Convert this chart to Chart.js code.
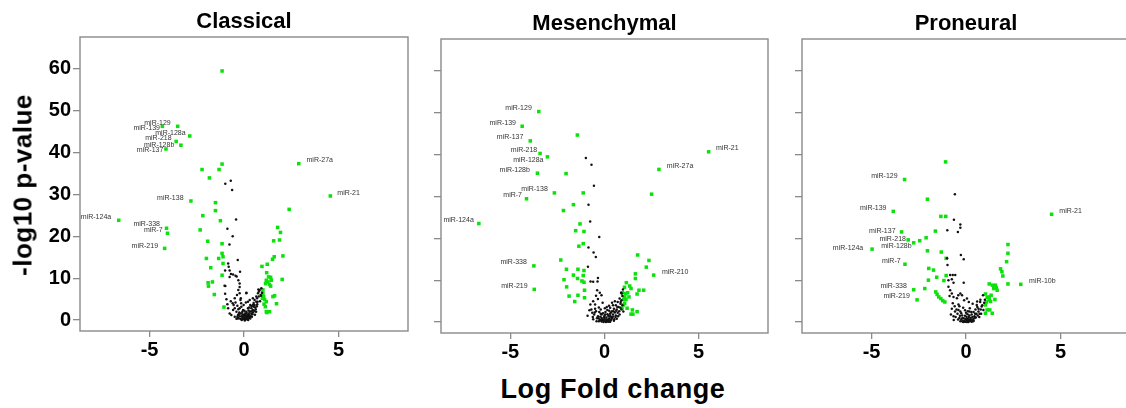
<!DOCTYPE html>
<html>
<head>
<meta charset="utf-8">
<script src="https://cdn.jsdelivr.net/npm/chart.js@4.4.1/dist/chart.umd.min.js"></script>
<style>
  html, body { margin: 0; padding: 0; background: #fff; overflow: hidden; width: 1126px; height: 408px; }
  canvas { position: absolute; top: 0; }
  .axis-title { position: absolute; font: bold 26px "Liberation Sans", Arial, sans-serif; white-space: nowrap; color: #000; }
  #ytitle { left: 23px; top: 185px; transform: translate(-50%, -50%) rotate(-90deg); letter-spacing: 0.5px; }
  #xtitle { left: 613px; top: 389px; transform: translate(-50%, -50%); font-size: 27px; letter-spacing: 0.6px; }
</style>
</head>
<body>
<canvas id="classical" width="420" height="372" style="left:0px"></canvas>
<canvas id="mesenchymal" width="360" height="372" style="left:420px"></canvas>
<canvas id="proneural" width="352" height="372" style="left:790px"></canvas>
<div class="axis-title" id="ytitle">-log10 p-value</div>
<div class="axis-title" id="xtitle">Log Fold change</div>
<script>
// Tick labels
// ----------------------------------------------
const xTicks = [-5, 0, 5];
const yTicks = [0, 10, 20, 30, 40, 50, 60];

// Classical
// ----------------------------------------------
const classicalGreen = [
   [-1.16,59.4],[-2.22,35.9],[-1.83,33.9],[-1.32,35.9],[-1.16,37.2],[-1.51,28.0],[-1.51,26.1],[-2.18,24.9],
   [-1.25,23.7],[-2.32,21.5],[-1.92,18.8],[-1.16,18.2],[-1.99,14.7],[-1.34,14.7],[-1.16,15.9],[-1.11,15.1],
   [-1.76,12.5],[-1.11,13.5],[-1.16,10.7],[-1.90,8.9],[-1.88,8.1],[-1.67,9.1],[-1.57,6.1],[-1.06,3.1],
   [2.39,26.4],[1.78,22.1],[1.93,20.9],[1.57,18.9],[1.88,19.1],[2.06,15.3],[1.60,15.1],[1.51,14.5],
   [0.95,12.8],[1.23,13.3],[1.20,11.3],[2.02,9.7],[1.30,10.3],[1.41,10.2],[1.18,9.5],[1.27,9.1],
   [1.35,8.5],[1.44,9.5],[1.14,8.7],[1.41,8.1],[1.00,7.2],[1.00,6.4],[1.04,5.6],[1.09,4.9],
   [1.18,4.4],[1.06,3.8],[1.13,3.2],[0.97,5.2],[1.53,5.6],[1.62,5.8],[1.72,3.9],[1.18,2.0],
   [1.35,2.0],[1.21,1.8]
];
const classicalBlack = [
   [-0.99,32.5],[-0.70,33.2],[-0.63,31.0],[-0.42,24.0],[-0.88,21.8],[-0.60,20.0],[-0.77,18.0],[-0.33,14.3],
   [-0.84,13.5],[-0.81,12.7],[-0.76,11.8],[-1.00,11.8],[-0.69,11.0],[-0.58,10.9],[-0.45,10.6],[-0.39,10.4],
   [-0.21,11.5],[-0.30,9.5],[-0.23,8.7],[-0.76,10.3],[-1.03,8.2],[-0.99,8.1],[-1.00,6.3],[-0.93,5.0],
   [-0.88,3.8],[-0.84,2.8],[-0.76,1.6],[-0.60,4.0],[-0.49,5.2],[-0.37,6.0],[-0.30,7.2],[-0.23,7.9],
   [-0.23,6.4],[-0.17,5.2],[0.13,6.5],[-0.19,4.8],[-0.14,3.2],[-0.09,2.0],[-0.05,1.2],[-0.02,0.4],
   [0.04,0.2],[0.12,0.6],[0.21,1.2],[0.30,2.0],[0.39,2.8],[0.47,3.6],[0.56,4.8],[0.65,5.6],
   [0.74,6.4],[0.83,7.2],[0.76,7.3],[0.12,6.4],[0.21,4.4],[0.30,4.8],[0.47,5.2],[0.65,4.4],
   [0.56,3.6],[0.47,2.4],[0.39,1.6],[0.26,0.8],[0.09,1.2],[-0.05,2.4],[-0.19,1.6],[-0.32,1.2],
   [-0.40,2.0],[-0.49,2.8],[-0.58,2.4],[-0.67,1.2],[-0.49,0.8],[-0.32,0.4],[-0.14,0.2],[0.04,-0.1],
   [0.16,0.2],[-0.09,0.8],[-0.23,2.8],[0.04,1.6],[0.21,2.8],[0.33,3.6],[0.12,2.0],[0.51,4.1],
   [0.69,5.2],[0.79,6.8],[-0.30,0.5],[-0.20,0.3],[0.00,0.6],[0.10,0.3],[0.20,0.4],[0.30,0.6],
   [0.15,1.0],[-0.10,1.0],[0.05,1.3],[0.25,1.6],[-0.25,1.8],[0.35,1.0],[0.45,1.4],[0.55,2.2],
   [0.60,3.0],[0.70,3.8],[0.85,4.5],[0.90,5.8],[0.95,6.5],[0.62,2.6],[-0.35,3.4],[-0.55,3.6],
   [-0.70,4.5],[-0.45,4.2],[-0.15,4.0],[-0.40,0.3],[-0.35,0.8],[-0.28,1.4],[-0.22,0.9],[-0.12,1.6],
   [-0.08,0.5],[0.00,1.1],[0.02,2.2],[0.08,0.9],[0.14,1.7],[0.18,0.7],[0.24,2.3],[0.28,1.2],
   [0.33,0.4],[0.38,2.1],[0.42,0.8],[0.48,1.9],[0.52,3.2],[0.58,1.3],[0.64,2.0],[0.68,3.3],
   [0.72,4.4],[0.78,5.6],[0.88,6.0],[0.92,7.6],[0.40,3.3],[0.27,3.0],[-0.02,3.6],[0.10,4.2],
   [-0.30,2.6],[-0.12,0.05],[0.22,0.0],[0.07,0.15],[-0.05,0.25]
];
// name, point x, point y, text x, text y
const classicalNamed = [
   ['miR-129',-3.51,46.2,-3.88,46.9],
   ['miR-139',-4.32,46.2,-4.45,45.8],
   ['miR-128a',-2.87,43.9,-3.09,44.6],
   ['miR-218',-3.59,42.6,-3.83,43.4],
   ['miR-128b',-3.34,41.7,-3.69,41.7],
   ['miR-137',-4.13,40.8,-4.27,40.6],
   ['miR-27a',2.90,37.3,3.31,38.1],
   ['miR-21',4.57,29.6,4.94,30.4],
   ['miR-138',-2.81,28.4,-3.20,29.1],
   ['miR-124a',-6.63,23.8,-7.03,24.5],
   ['miR-338',-4.10,21.9,-4.45,22.9],
   ['miR-7',-4.05,20.7,-4.31,21.5],
   ['miR-219',-4.20,17.1,-4.55,17.7]
];

// Mesenchymal
// ----------------------------------------------
const mesenchymalGreen = [
   [-1.44,44.6],[-2.04,35.4],[-1.13,30.8],[2.50,30.5],[-1.65,28.0],[-2.18,26.6],[-1.30,23.4],[-1.53,21.8],
   [-1.09,21.6],[-1.13,18.7],[-1.36,18.1],[1.76,16.0],[2.36,14.7],[-2.32,14.8],[2.22,13.1],[-2.02,12.6],
   [-1.41,12.6],[-1.09,12.3],[-1.65,11.2],[-1.13,11.1],[-1.43,10.4],[-1.20,9.8],[-1.09,9.5],[-2.15,10.1],
   [1.64,11.5],[1.64,10.4],[1.16,9.4],[1.34,8.6],[1.41,8.0],[1.06,8.3],[0.95,7.0],[1.23,7.0],
   [1.30,6.0],[1.02,5.4],[1.07,4.5],[1.20,3.3],[0.93,3.3],[1.48,2.9],[1.41,1.9],[1.51,1.9],
   [1.73,2.5],[1.83,7.6],[2.08,7.6],[1.73,6.7],[-2.01,8.4],[-1.41,6.4],[-1.06,7.6],[-1.06,5.8],
   [-1.88,6.2],[-1.58,4.9],[1.07,6.0],[1.13,6.8],[1.14,5.4],[1.00,4.1]
];
const mesenchymalBlack = [
   [-0.99,39.1],[-0.69,37.5],[-0.56,32.5],[-0.85,28.0],[-0.76,24.0],[-0.28,20.3],[-0.85,17.8],[-0.58,16.6],
   [-0.46,15.5],[-0.88,13.2],[-0.35,10.5],[-0.37,9.7],[-0.74,9.7],[-0.60,9.6],[-0.39,7.6],[-0.16,6.4],
   [-0.60,5.0],[-0.50,4.2],[-0.70,3.0],[-0.45,2.6],[-0.30,3.5],[-0.20,2.0],[-0.35,1.4],[-0.15,1.0],
   [-0.05,0.4],[0.05,0.2],[0.15,0.5],[0.25,0.9],[0.35,1.3],[0.45,1.8],[0.55,2.3],[0.65,3.0],
   [0.75,3.6],[0.85,4.4],[0.90,5.2],[0.95,6.2],[0.88,7.0],[0.98,7.8],[0.60,4.0],[0.50,3.2],
   [0.40,2.6],[0.30,2.0],[0.20,1.5],[0.10,1.1],[0.00,0.8],[-0.10,0.3],[-0.25,0.6],[-0.40,0.9],
   [-0.55,1.8],[-0.65,2.2],[-0.80,2.8],[-0.75,4.2],[-0.20,3.0],[0.05,2.4],[0.15,2.9],[0.30,3.4],
   [0.45,4.0],[0.70,4.8],[0.80,5.6],[0.35,0.5],[0.20,0.1],[-0.05,0.0],[0.10,0.6],[0.40,1.0],
   [0.60,1.6],[0.70,2.2],[-0.30,0.2],[-0.15,1.8],[0.25,2.7],[0.55,5.0],[-0.50,3.2],[-0.90,1.5],
   [0.80,1.8],[0.90,3.0],[-0.35,5.5],[-0.10,4.6],[0.12,3.6],[0.00,1.5],[0.65,0.8],[0.50,0.3],
   [-0.60,0.7],[-0.45,6.3],[-0.25,7.0],[0.95,4.0],[1.00,2.5],[-0.15,0.15],[0.30,0.1],[0.08,0.05],
   [0.18,0.25],[-0.20,0.4],[-0.42,0.2],[-0.32,0.9],[-0.22,1.3],[-0.12,0.6],[-0.02,1.2],[0.04,1.8],
   [0.12,0.3],[0.16,1.9],[0.22,0.7],[0.28,1.5],[0.34,2.3],[0.38,0.8],[0.44,1.3],[0.48,2.6],
   [0.52,0.7],[0.58,1.2],[0.62,2.7],[0.68,3.6],[0.72,1.4],[0.78,2.6],[0.84,3.4],[0.86,4.8],
   [0.92,6.8],[-0.52,2.3],[-0.62,1.2],[-0.28,2.4],[-0.08,2.1],[0.02,3.3],[0.24,3.9],[0.40,4.6],
   [0.26,0.2],[-0.02,0.6],[0.10,0.1]
];
const mesenchymalNamed = [
   ['miR-129',-3.49,50.2,-3.86,51.0],
   ['miR-139',-4.37,46.7,-4.70,47.5],
   ['miR-137',-3.94,43.2,-4.31,44.1],
   ['miR-218',-3.42,40.2,-3.57,41.0],
   ['miR-128a',-3.03,39.4,-3.24,38.7],
   ['miR-128b',-3.56,35.5,-3.96,36.2],
   ['miR-138',-2.66,30.8,-3.01,31.7],
   ['miR-7',-4.14,29.4,-4.38,30.2],
   ['miR-124a',-6.67,23.5,-6.94,24.3],
   ['miR-338',-3.75,13.4,-4.12,14.2],
   ['miR-219',-3.73,7.8,-4.08,8.6],
   ['miR-21',5.53,40.6,5.92,41.4],
   ['miR-27a',2.89,36.4,3.31,37.3],
   ['miR-210',2.61,11.2,3.05,12.0]
];

// Proneural
// ----------------------------------------------
const proneuralGreen = [
   [-1.08,38.2],[-2.04,29.3],[-1.33,25.2],[-1.07,25.2],[-1.62,21.7],[-2.11,20.1],[-2.45,19.4],[-2.04,17.0],
   [-1.31,16.7],[-1.05,15.2],[2.22,18.5],[2.22,16.4],[2.15,14.4],[-1.97,12.8],[-1.72,12.4],[1.83,12.7],
   [1.90,12.0],[1.95,11.0],[-1.55,10.7],[-1.05,11.1],[-1.17,9.9],[-1.99,10.0],[2.22,9.1],[1.23,9.1],
   [1.40,8.8],[1.51,8.6],[1.60,8.2],[1.65,7.6],[1.47,8.0],[1.56,8.8],[-2.18,8.0],[-1.60,7.2],
   [-1.53,6.6],[-1.44,6.0],[-1.33,5.6],[-1.23,5.1],[-1.12,4.8],[1.03,6.7],[1.12,5.9],[1.23,6.0],
   [1.33,6.4],[1.23,5.3],[1.08,4.8],[1.03,4.1],[1.30,4.9],[1.53,5.4],[1.12,2.9],[1.26,2.9],
   [1.39,2.1],[1.03,2.1]
];
const proneuralBlack = [
   [-0.59,30.5],[-0.64,24.4],[-0.30,23.3],[-0.30,22.5],[-0.43,21.5],[-0.99,21.9],[-0.27,16.0],[-0.12,15.0],
   [-1.00,15.2],[-0.98,13.6],[-0.84,11.2],[-0.70,11.2],[-0.57,11.2],[-0.93,10.0],[-0.75,10.2],[-0.66,9.4],
   [-0.12,9.4],[-0.93,8.4],[-0.84,7.6],[-0.75,6.8],[-0.66,6.0],[-0.87,6.2],[-0.41,6.4],[-0.30,6.8],
   [-0.21,6.4],[-0.48,5.7],[-0.70,4.5],[-0.60,3.8],[-0.50,3.0],[-0.75,3.2],[-0.40,4.2],[-0.30,2.5],
   [-0.45,2.0],[-0.20,1.6],[-0.15,3.4],[-0.55,1.2],[-0.35,1.0],[-0.25,0.6],[-0.10,0.3],[0.00,0.1],
   [0.10,0.4],[0.20,0.2],[0.05,0.8],[0.15,1.2],[-0.05,1.5],[0.25,1.0],[0.35,0.6],[0.30,1.8],
   [0.45,1.4],[0.40,2.4],[0.55,2.0],[0.50,3.0],[0.66,2.5],[0.60,3.6],[0.57,4.1],[0.75,4.8],
   [0.83,3.7],[0.92,2.9],[1.00,5.3],[0.90,6.4],[0.59,4.9],[0.76,5.3],[0.70,1.2],[0.80,2.0],
   [-0.65,0.5],[-0.80,1.8],[0.10,2.6],[0.20,3.3],[-0.05,2.8],[0.30,0.1],[-0.15,0.0],[0.12,0.0],
   [0.02,0.5],[-0.30,0.2],[0.40,0.4],[0.22,0.6],[-0.12,0.9],[0.08,1.9],[-0.35,3.8],[0.35,4.4],
   [0.15,4.8],[-0.10,5.2],[0.05,5.6],[-0.42,0.6],[-0.32,1.5],[-0.20,0.9],[-0.08,0.1],[-0.02,0.7],
   [0.03,1.2],[0.08,0.3],[0.14,0.7],[0.18,1.6],[0.26,0.4],[0.28,2.4],[0.34,1.2],[0.38,0.2],
   [0.44,0.9],[0.48,2.0],[0.52,1.1],[0.62,1.6],[0.66,3.2],[0.72,2.0],[0.78,3.0],[0.86,4.0],
   [0.96,4.6],[-0.58,2.5],[-0.66,1.4],[-0.40,2.9],[-0.25,2.1],[0.00,2.2],[0.18,2.5],[-0.20,0.2],
   [0.05,0.0]
];
const proneuralNamed = [
   ['miR-129',-3.25,34.0,-3.62,34.8],
   ['miR-139',-3.85,26.4,-4.21,27.1],
   ['miR-137',-3.41,21.5,-3.73,21.8],
   ['miR-218',-3.06,19.6,-3.18,19.7],
   ['miR-128b',-2.77,18.9,-2.88,18.1],
   ['miR-124a',-4.97,17.4,-5.44,17.7],
   ['miR-7',-3.23,13.8,-3.46,14.6],
   ['miR-338',-2.77,7.7,-3.13,8.6],
   ['miR-219',-2.59,5.3,-2.97,6.2],
   ['miR-21',4.53,25.7,4.94,26.5],
   ['miR-10b',2.90,9.0,3.34,9.8]
];


const fontFamily = '"Liberation Sans", Arial, Helvetica, sans-serif';
const axisGrey = '#8a8a8a';
Chart.defaults.font.family = fontFamily;

// Box, panel title and point names
function decor(title, named) {
   return {
      id: 'decor',
      beforeDatasetsDraw(chart) {
         const a = chart.chartArea, ctx = chart.ctx;
         ctx.save();
         ctx.strokeStyle = axisGrey;
         ctx.lineWidth = 1.4;
         ctx.strokeRect(a.left, a.top, a.right - a.left, a.bottom - a.top);
         ctx.restore();
      },
      afterDatasetsDraw(chart) {
         const xs = chart.scales.x, ys = chart.scales.y, ctx = chart.ctx;
         ctx.save();
         ctx.font = '7px ' + fontFamily;
         ctx.fillStyle = '#333';
         ctx.textBaseline = 'middle';
         named.forEach(n => {
            ctx.textAlign = n[3] < n[1] ? 'right' : 'left';
            ctx.fillText(n[0], xs.getPixelForValue(n[3]), ys.getPixelForValue(n[4]));
         });
         ctx.restore();
      },
      afterDraw(chart) {
         const a = chart.chartArea, ctx = chart.ctx;
         ctx.save();
         ctx.font = 'bold 22px ' + fontFamily;
         ctx.fillStyle = '#000';
         ctx.textAlign = 'center';
         ctx.textBaseline = 'alphabetic';
         ctx.fillText(title, (a.left + a.right) / 2, a.top - 9);
         ctx.restore();
      }
   };
}

function volcano(id, title, black, green, named, box) {
   const greenAll = green.concat(named.map(n => [n[1], n[2]]));
   return new Chart(document.getElementById(id), {
      type: 'scatter',
      data: {
         datasets: [
            {
               data: black.map(p => ({ x: p[0], y: p[1] })),
               pointStyle: 'circle',
               pointRadius: 1.25,
               borderWidth: 0,
               backgroundColor: '#111'
            },
            {
               data: greenAll.map(p => ({ x: p[0], y: p[1] })),
               pointStyle: 'rect',
               pointRadius: 2.5,
               borderWidth: 0,
               backgroundColor: '#0be20b'
            }
         ]
      },
      options: {
         responsive: false,
         animation: false,
         events: [],
         layout: { padding: { top: box.top, right: box.right, left: 0, bottom: 0 } },
         plugins: {
            legend: { display: false },
            tooltip: { enabled: false }
         },
         scales: {
            x: {
               type: 'linear',
               min: -8.68,
               max: 8.68,
               afterBuildTicks: s => { s.ticks = xTicks.map(v => ({ value: v })); },
               afterFit: s => { s.height = box.xh; },
               border: { display: false },
               grid: { drawOnChartArea: false, tickLength: 6, color: axisGrey, lineWidth: 1.3 },
               ticks: { color: '#000', padding: 1, font: { size: 20, weight: 'bold' } }
            },
            y: {
               type: 'linear',
               min: -2.6,
               max: 67.5,
               afterBuildTicks: s => { s.ticks = yTicks.map(v => ({ value: v })); },
               afterFit: s => { s.width = box.yw; },
               border: { display: false },
               grid: { drawOnChartArea: false, tickLength: 7, color: axisGrey, lineWidth: 1.3 },
               ticks: {
                  color: '#000',
                  padding: 2,
                  font: { size: 20, weight: 'bold' },
                  callback: v => box.yLabels ? String(v) : ''
               }
            }
         }
      },
      plugins: [decor(title, named)]
   });
}

volcano('classical', 'Classical', classicalBlack, classicalGreen, classicalNamed,
   { top: 37, right: 12, xh: 41, yw: 80, yLabels: true });
volcano('mesenchymal', 'Mesenchymal', mesenchymalBlack, mesenchymalGreen, mesenchymalNamed,
   { top: 39, right: 12, xh: 39, yw: 21, yLabels: false });
volcano('proneural', 'Proneural', proneuralBlack, proneuralGreen, proneuralNamed,
   { top: 39, right: 12, xh: 39, yw: 12, yLabels: false });
</script>
</body>
</html>
